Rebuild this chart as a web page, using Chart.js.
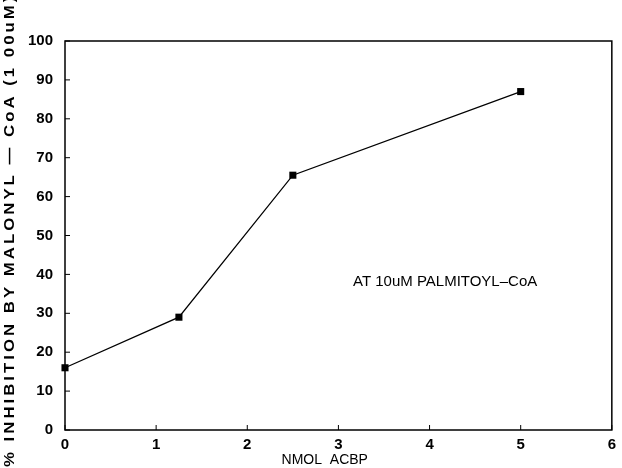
<!DOCTYPE html>
<html>
<head>
<meta charset="utf-8">
<script src="https://cdn.jsdelivr.net/npm/chart.js@4"></script>
<style>
  html, body { margin: 0; padding: 0; background: #fff; }
  #wrap { width: 622px; height: 468px; position: relative; }
</style>
</head>
<body>
<div id="wrap"><canvas id="myChart" width="622" height="468"></canvas></div>
<script>
// data
const acbp = [0, 1.25, 2.5, 5];
const inhibition = [16, 29, 65.5, 87];
const xTicks = [0, 1, 2, 3, 4, 5, 6];
const yTicks = [0, 10, 20, 30, 40, 50, 60, 70, 80, 90, 100];
const yTitle = '% INHIBITION BY MALONYL \u2014 CoA (1 00uM)';
const xTitle = 'NMOL  ACBP';
const note = 'AT 10uM PALMITOYL\u2013CoA';

const ctx = document.getElementById('myChart');

// frame, inner ticks and loose texts
const decor = {
    id: 'decor',
    afterDraw(chart) {
        const c = chart.ctx;
        const a = chart.chartArea;
        const xs = chart.scales.x, ys = chart.scales.y;
        c.save();
        c.strokeStyle = '#000';
        c.lineWidth = 1.5;
        c.strokeRect(a.left, a.top, a.right - a.left, a.bottom - a.top);
        c.lineWidth = 1;
        yTicks.forEach((v) => {
            const y = ys.getPixelForValue(v);
            c.beginPath(); c.moveTo(a.left, y); c.lineTo(a.left + 5, y); c.stroke();
        });
        xTicks.forEach((v) => {
            const x = xs.getPixelForValue(v);
            c.beginPath(); c.moveTo(x, a.bottom); c.lineTo(x, a.bottom - 5); c.stroke();
        });
        c.fillStyle = '#000';
        // annotation
        c.font = '15px "Liberation Sans", Arial, sans-serif';
        c.textAlign = 'left';
        c.textBaseline = 'middle';
        c.fillText(note, xs.getPixelForValue(3.16), ys.getPixelForValue(38));
        // x title
        c.font = '14px "Liberation Sans", Arial, sans-serif';
        c.textAlign = 'center';
        c.fillText(xTitle, xs.getPixelForValue(2.85), 460);
        // y title, wide lettering, clipped at top like the scan
        c.translate(10, 467);
        c.rotate(-Math.PI / 2);
        c.scale(1.2, 1);
        c.font = 'bold 14px "Liberation Sans", Arial, sans-serif';
        c.letterSpacing = '2.5px';
        c.textAlign = 'left';
        c.fillText(yTitle, 0, 0);
        c.restore();
    }
};

new Chart(ctx, {
    type: 'line',
    data: {
        datasets: [{
            label: 'inhibition',
            data: acbp.map((x, i) => ({x: x, y: inhibition[i]})),
            borderColor: '#000',
            backgroundColor: '#000',
            borderWidth: 1.3,
            pointStyle: 'rect',
            pointRadius: 5,
            pointBorderWidth: 0,
            tension: 0,
            clip: false,
        }],
    },
    options: {
        responsive: false,
        animation: false,
        layout: {
            padding: {top: 41, right: 5, left: 0, bottom: 0}
        },
        plugins: {
            legend: {display: false},
            tooltip: {enabled: false},
        },
        scales: {
            x: {
                type: 'linear',
                min: 0,
                max: 6,
                afterBuildTicks: (s) => { s.ticks = xTicks.map((v) => ({value: v})); },
                afterFit: (s) => { s.height = 38; },
                grid: {display: false, drawTicks: false},
                border: {display: false},
                ticks: {
                    color: '#000',
                    padding: 6,
                    font: {family: '"Liberation Sans", Arial, sans-serif', size: 15, weight: 'bold'},
                },
            },
            y: {
                min: 0,
                max: 100,
                afterBuildTicks: (s) => { s.ticks = yTicks.map((v) => ({value: v})); },
                afterFit: (s) => { s.width = 65; },
                grid: {display: false, drawTicks: false},
                border: {display: false},
                ticks: {
                    color: '#000',
                    padding: 12,
                    font: {family: '"Liberation Sans", Arial, sans-serif', size: 15, weight: 'bold'},
                },
            },
        },
    },
    plugins: [decor],
});
</script>
</body>
</html>
